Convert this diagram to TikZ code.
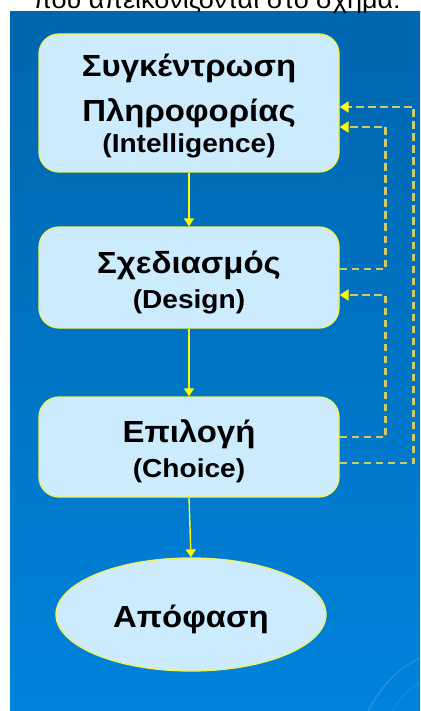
\documentclass[tikz,border=0pt]{standalone}
\usepackage{fontspec}
\setmainfont{Liberation Sans}
\newfontfamily\labfont[FakeStretch=1.08]{Liberation Sans}
\usetikzlibrary{arrows.meta,shapes.geometric}

\definecolor{bgtop}{HTML}{0066AE}
\definecolor{bgbot}{HTML}{0083DB}
\definecolor{boxfill}{HTML}{CCEBFC}
\definecolor{boxline}{HTML}{F2F25A}
\definecolor{flow}{HTML}{FFFF00}
\definecolor{loopline}{HTML}{CFCA6A}

\tikzset{
  stage/.style={draw=boxline, line width=1.3pt, fill=boxfill, rectangle,
    rounded corners=20pt, minimum width=300pt, inner sep=0pt},
  outcome/.style={draw=boxline, line width=1.3pt, fill=boxfill, ellipse,
    minimum width=270pt, minimum height=113pt, inner sep=0pt},
  big/.style={font=\labfont\bfseries\fontsize{30.5}{34}\selectfont, anchor=base, inner sep=0pt},
  small/.style={font=\labfont\bfseries\fontsize{26}{30}\selectfont, anchor=base, inner sep=0pt},
  flowarrow/.style={draw=flow, line width=1.4pt, -{Triangle[length=8pt,width=10pt]}},
  loop/.style={draw=loopline, line width=2.6pt, dash pattern=on 7.5pt off 4.5pt,
    -{Triangle[length=9pt,width=11pt,fill=flow,color=flow]}}
}

\begin{document}
\begin{tikzpicture}[x=1pt, y=-1pt]
  \useasboundingbox (0,0) rectangle (420,711);

  % page background and the slide area
  \fill[white] (0,0) rectangle (420,711);
  \shade[top color=bgtop, bottom color=bgbot] (10,12) rectangle (420,711);
  \draw[white, opacity=0.12, line width=1.5pt] (368,711) .. controls (385,680) and (400,668) .. (420,658);
  \draw[white, opacity=0.10, line width=1pt] (392,711) .. controls (402,695) and (410,688) .. (420,683);

  % caption line above the slide
  \node[font=\labfont\fontsize{25}{28}\selectfont, anchor=base east, inner sep=0pt] (cap) at (401,9) {που απεικονίζονται στο σχήμα:};

  % stages of the process
  \node[stage, minimum height=138pt] (b1) at (189,103) {};
  \node[stage, minimum height=101pt] (b2) at (189,277.5) {};
  \node[stage, minimum height=100pt] (b3) at (189,447) {};
  \node[outcome] (res) at (191,614.5) {};

  \node[big]   (t1a) at (189,77)  {Συγκέντρωση};
  \node[big]   (t1b) at (189,122) {Πληροφορίας};
  \node[small] (t1c) at (189,153) {(Intelligence)};
  \node[big]   (t2a) at (189,273) {Σχεδιασμός};
  \node[small] (t2b) at (189,308) {(Design)};
  \node[big]   (t3a) at (189,442) {Επιλογή};
  \node[small] (t3b) at (189,477) {(Choice)};
  \node[big]   (t4a) at (191,627) {Απόφαση};

  % main flow
  \draw[flowarrow] (b1.south) -- (b2.north);
  \draw[flowarrow] (b2.south) -- (b3.north);
  \draw[flowarrow] (b3.south) -- (res.north);

  % feedback loops
  \draw[loop] ([yshift=-16pt]b3.east) -- ++(74,0) |- ([yshift=-4pt]b1.east);
  \draw[loop] ([yshift=8.5pt]b2.east) -- ++(46,0) |- ([yshift=-24pt]b1.east);
  \draw[loop] ([yshift=10pt]b3.east) -- ++(46,0) |- ([yshift=-17.5pt]b2.east);
\end{tikzpicture}
\end{document}
